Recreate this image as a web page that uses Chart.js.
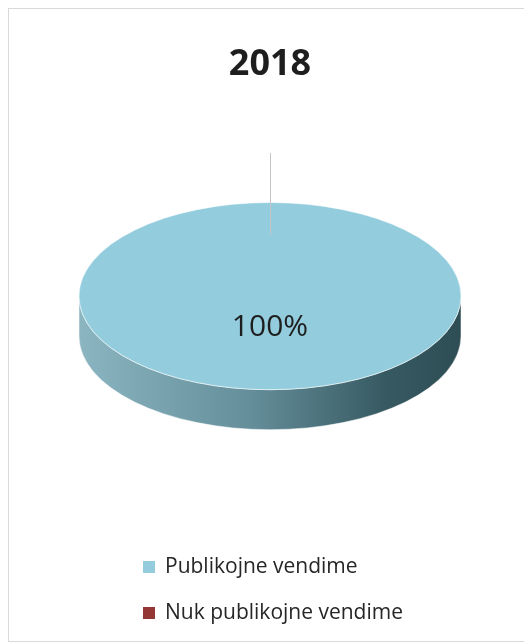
<!DOCTYPE html>
<html>
<head>
<meta charset="utf-8">
<script src="https://cdn.jsdelivr.net/npm/chart.js@4.4.0/dist/chart.umd.min.js"></script>
<style>
  html, body { margin: 0; padding: 0; background: #fff; overflow: hidden; }
  #box { position: absolute; left: 8px; top: 8px; width: 532px; height: 632px; border: 1px solid #d9d9d9; }
  canvas { display: block; }
</style>
</head>
<body>
<div id="box"><canvas id="pieChart" width="532" height="632"></canvas></div>
<script>
// chart data
const chartTitle = '2018';
const labels = ['Publikojne vendime', 'Nuk publikojne vendime'];
const values = [100, 0];
const colors = ['#93cddd', '#953735'];

// 3d look
const tilt = 0.49;   // how flat the pie top is
const depth = 40;    // thickness of the side wall

const pie3d = {
    id: 'pie3d',
    beforeDatasetsDraw(chart) {
        const ctx = chart.ctx;
        const arc = chart.getDatasetMeta(0).data[0];
        const cx = arc.x, cy = arc.y, r = arc.outerRadius;
        const ry = r * tilt;

        // side wall, front half only
        const grad = ctx.createLinearGradient(cx - r, 0, cx + r, 0);
        grad.addColorStop(0, '#8cb5c2');
        grad.addColorStop(0.45, '#648e9a');
        grad.addColorStop(0.8, '#375a62');
        grad.addColorStop(1, '#2e4d54');
        ctx.save();
        ctx.beginPath();
        ctx.ellipse(cx, cy, r, ry, 0, 0, Math.PI);
        ctx.ellipse(cx, cy + depth, r, ry, 0, Math.PI, 0, true);
        ctx.closePath();
        ctx.fillStyle = grad;
        ctx.fill();
        ctx.strokeStyle = 'rgba(255,255,255,0.5)';
        ctx.lineWidth = 1;
        ctx.stroke();
        ctx.restore();

        // squash the pie itself into the top face
        ctx.save();
        ctx.translate(0, cy);
        ctx.scale(1, tilt);
        ctx.translate(0, -cy);
    },
    afterDatasetsDraw(chart) {
        const ctx = chart.ctx;
        ctx.restore();

        const meta = chart.getDatasetMeta(0);
        const total = values.reduce((a, b) => a + b, 0);

        // light rim round the top face
        const first = meta.data[0];
        ctx.save();
        ctx.strokeStyle = 'rgba(255,255,255,0.55)';
        ctx.lineWidth = 1;
        ctx.beginPath();
        ctx.ellipse(first.x, first.y, first.outerRadius, first.outerRadius * tilt, 0, 0, Math.PI * 2);
        ctx.stroke();
        ctx.restore();

        meta.data.forEach((arc, i) => {
            const r = arc.outerRadius;
            const a = (arc.startAngle + arc.endAngle) / 2;
            const px = f => arc.x + Math.cos(a) * r * f;
            const py = f => arc.y + Math.sin(a) * r * f * tilt;
            if (values[i] === 0) {
                // leader line of the empty slice
                ctx.save();
                ctx.strokeStyle = '#c4c4c4';
                ctx.lineWidth = 1;
                ctx.beginPath();
                ctx.moveTo(Math.round(px(0.65)) + 0.5, py(0.65));
                ctx.lineTo(Math.round(px(1.53)) + 0.5, py(1.53));
                ctx.stroke();
                ctx.restore();
            } else {
                ctx.save();
                ctx.fillStyle = '#1e1e1e';
                ctx.font = '30px "Open Sans"';
                ctx.textAlign = 'center';
                ctx.textBaseline = 'middle';
                ctx.fillText(Math.round(values[i] / total * 100) + '%', px(0.34), py(0.34));
                ctx.restore();
            }
        });
    },
    afterDraw(chart) {
        // legend, one item per line
        const ctx = chart.ctx;
        const lx = 134, ly = 558, gap = 46;
        ctx.save();
        ctx.font = '21px "Open Sans"';
        ctx.textBaseline = 'middle';
        labels.forEach((lab, i) => {
            ctx.fillStyle = colors[i];
            ctx.fillRect(lx, ly + i * gap - 6, 12, 12);
            ctx.fillStyle = '#262626';
            ctx.fillText(lab, lx + 22, ly + i * gap);
        });
        ctx.restore();
    }
};

const ctx = document.getElementById('pieChart').getContext('2d');
new Chart(ctx, {
    type: 'pie',
    data: {
        labels: labels,
        datasets: [{
            data: values,
            backgroundColor: colors,
            borderWidth: 0,
        }],
    },
    options: {
        responsive: false,
        animation: false,
        layout: {
            padding: { left: 70, right: 80, top: 0, bottom: 143 },
        },
        plugins: {
            title: {
                display: true,
                text: chartTitle,
                color: '#1e1e1e',
                font: { family: 'Open Sans', size: 36, weight: 'bold' },
                padding: { top: 34, bottom: 8 },
            },
            legend: { display: false },
            tooltip: { enabled: false },
        },
    },
    plugins: [pie3d],
});
</script>
</body>
</html>
